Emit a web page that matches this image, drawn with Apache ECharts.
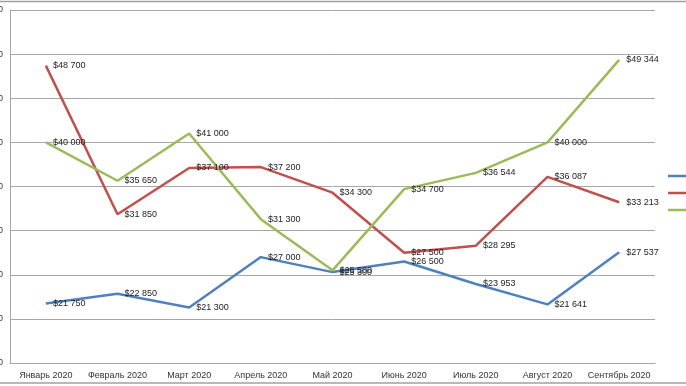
<!DOCTYPE html>
<html><head><meta charset="utf-8">
<script src="https://cdn.jsdelivr.net/npm/echarts@6/dist/echarts.min.js"></script>
<style>html,body{margin:0;padding:0;background:#fff}#c{width:686px;height:386px}</style>
</head><body><div id="c"></div>
<script>
var categories = ["Январь 2020","Февраль 2020","Март 2020","Апрель 2020","Май 2020","Июнь 2020","Июль 2020","Август 2020","Сентябрь 2020"];
var seriesNames = ["Серия 1","Серия 2","Серия 3"];
var blueValues = [21750,22850,21300,27000,25300,26500,23953,21641,27537];
var redValues = [48700,31850,37100,37200,34300,27500,28295,36087,33213];
var greenValues = [40000,35650,41000,31300,25500,34700,36544,40000,49344];
var colors = ["#4f81bd","#c0504d","#9bbb59"];

function fmt(v){
  var s = String(Math.round(v));
  return "$" + s.replace(/\B(?=(\d{3})+(?!\d))/g, "\u00a0");
}
var font = "Liberation Sans";
function mk(name, data, color){
  return {
    name: name, type: "line", data: data,
    symbol: "circle", symbolSize: 0.1, showSymbol: true,
    itemStyle: {color: color},
    lineStyle: {color: color, width: 2.5},
    emphasis: {disabled: true},
    label: {show: true, position: "right", distance: 7, color: "#222", fontSize: 9, fontFamily: font,
      formatter: function(p){ return fmt(p.value); }},
    animation: false
  };
}
var chart = echarts.init(document.getElementById("c"));
chart.setOption({
  animation: false,
  color: colors,
  grid: {left: 10, right: 31, top: 10, bottom: 23, containLabel: false, outerBoundsMode: "none"},
  xAxis: {
    type: "category", data: categories, boundaryGap: true,
    axisLine: {lineStyle: {color: "#a6a6a6", width: 1}},
    axisTick: {show: false},
    axisLabel: {color: "#333", fontSize: 9, fontFamily: font, margin: 8, interval: 0}
  },
  yAxis: {
    type: "value", min: 15000, max: 55000, interval: 5000,
    axisLine: {show: true, lineStyle: {color: "#a6a6a6", width: 1}},
    axisTick: {show: false},
    splitLine: {lineStyle: {color: "#a6a6a6", width: 1}},
    axisLabel: {color: "#333", fontSize: 9, fontFamily: font, margin: 7, formatter: function(v){return fmt(v);}}
  },
  legend: {
    orient: "vertical", left: 668, top: 170, padding: 0,
    itemWidth: 25, itemHeight: 2.5, itemGap: 5, icon: "rect",
    textStyle: {fontSize: 9, lineHeight: 12, color: "#333", fontFamily: font},
    data: seriesNames
  },
  graphic: [
    {type: "line", shape: {x1: 0, y1: 1.5, x2: 686, y2: 1.5}, style: {stroke: "#a0a0a0", lineWidth: 1.5}},
    {type: "line", shape: {x1: 0, y1: 383, x2: 686, y2: 383}, style: {stroke: "#a0a0a0", lineWidth: 1.5}}
  ],
  series: [
    mk(seriesNames[0], blueValues, colors[0]),
    mk(seriesNames[1], redValues, colors[1]),
    mk(seriesNames[2], greenValues, colors[2])
  ]
});
</script></body></html>
